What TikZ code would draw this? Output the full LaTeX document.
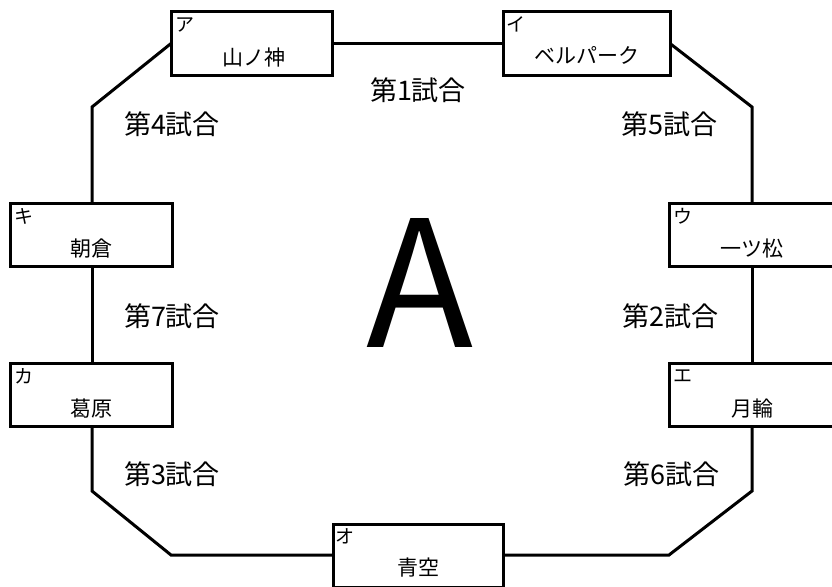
\documentclass[tikz,border=0pt]{standalone}
\usepackage{fontspec}
\setmainfont{Noto Sans CJK JP}
\begin{document}
\begin{tikzpicture}[x=1pt,y=-1pt,
  teambox/.style={draw=black,line width=3pt,fill=white,inner sep=0pt,minimum height=63pt},
  kana/.style={anchor=center,inner sep=0pt,font=\fontsize{19}{19}\selectfont},
  teamname/.style={anchor=center,inner sep=0pt,font=\fontsize{21}{21}\selectfont},
  matchlbl/.style={anchor=center,inner sep=0pt,font=\fontsize{27}{27}\selectfont},
  edge/.style={draw=black,line width=3pt,line join=miter}]
\useasboundingbox (0,0) rectangle (832,586);
% coordinates of corners
\coordinate (c1) at (92,107);
\coordinate (c2) at (752,107);
\coordinate (c3) at (752,491);
\coordinate (c4) at (669,555);
\coordinate (c5) at (171,555);
\coordinate (c6) at (92,491);
% edges
\draw[edge] (251.5,43.5) -- (586.5,43.5);
\draw[edge] (251.5,43.5) -- (171,43.5) -- (c1) -- (92,235);
\draw[edge] (586.5,43.5) -- (670,43.5) -- (c2) -- (752,235);
\draw[edge] (92,235) -- (92,395);
\draw[edge] (752,235) -- (752,395);
\draw[edge] (92,395) -- (c6) -- (c5) -- (418,555);
\draw[edge] (752,395) -- (c3) -- (c4) -- (418,555);
% boxes
\node[teambox,minimum width=161pt] (a) at (251.5,43.5) {};
\node[teambox,minimum width=167pt] (i) at (586.5,43.5) {};
\node[teambox,minimum width=166pt] (u) at (752,235) {};
\node[teambox,minimum width=166pt] (e) at (752,395) {};
\node[teambox,minimum width=170pt] (o) at (418,555.5) {};
\node[teambox,minimum width=162pt] (ka) at (91,395) {};
\node[teambox,minimum width=162pt] (ki) at (91,235) {};
% box texts
\node[kana] (ak) at ([shift={(15,14)}]a.north west) {ア};
\node[teamname] (an) at ([shift={(2,47)}]a.north) {山ノ神};
\node[kana] (ik) at ([shift={(14,14)}]i.north west) {イ};
\node[teamname] (in) at ([shift={(0,45)}]i.north) {ベルパーク};
\node[kana] (uk) at ([shift={(15,14)}]u.north west) {ウ};
\node[teamname] (un) at ([shift={(0,47)}]u.north) {一ツ松};
\node[kana] (ek) at ([shift={(15,14)}]e.north west) {エ};
\node[teamname] (en) at ([shift={(0,47)}]e.north) {月輪};
\node[kana] (ok) at ([shift={(13,14)}]o.north west) {オ};
\node[teamname] (on) at ([shift={(0,45)}]o.north) {青空};
\node[kana] (kak) at ([shift={(15,14)}]ka.north west) {カ};
\node[teamname] (kan) at ([shift={(0,47)}]ka.north) {葛原};
\node[kana] (kik) at ([shift={(15,14)}]ki.north west) {キ};
\node[teamname] (kin) at ([shift={(0,47)}]ki.north) {朝倉};
% match labels
\node[matchlbl] (m1) at (418,90) {第1試合};
\node[matchlbl] (m4) at (172,124) {第4試合};
\node[matchlbl] (m5) at (669,124) {第5試合};
\node[matchlbl] (m7) at (172,316) {第7試合};
\node[matchlbl] (m2) at (670,316) {第2試合};
\node[matchlbl] (m3) at (172,474) {第3試合};
\node[matchlbl] (m6) at (671,474) {第6試合};
% big A
\node[inner sep=0pt,anchor=center,font=\fontsize{176}{176}\selectfont] (bigA) at (420,283) {A};
\end{tikzpicture}
\end{document}
